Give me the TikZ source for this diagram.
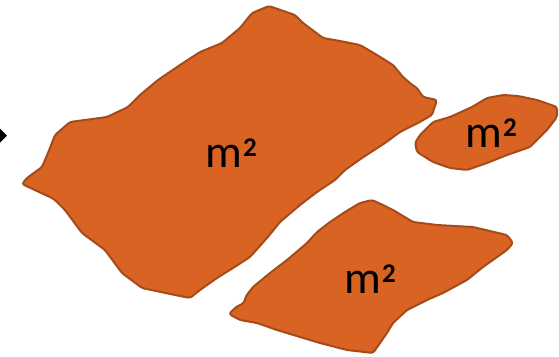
\documentclass[tikz,border=0pt]{standalone}
\usepackage{fontspec}
\setmainfont{Carlito}
\definecolor{clayfill}{HTML}{D96322}
\definecolor{clayedge}{HTML}{A54B1B}
\newcommand{\sqm}{m\kern1pt\raisebox{11pt}{\fontsize{27}{30}\selectfont\bfseries 2}}
\tikzset{
  plot/.style={fill=clayfill, draw=clayedge, line width=2pt, line join=round, rounded corners=2.5pt},
  area/.style={font=\fontsize{46}{50}\selectfont, text=black, inner sep=0pt}
}
\begin{document}
\begin{tikzpicture}[x=1pt,y=-1pt]
\useasboundingbox (0,0) rectangle (559,356);
% pointer at the left edge
\fill (-8,135.5) -- (-0.5,128) -- (7,135.5) -- (-0.5,143) -- cycle;
% big plot
\draw[plot] (27,178) -- (42,167) -- (48,153) -- (55,135) -- (70,122) -- (107,117) -- (128,107)
  -- (140,95) -- (158,80) -- (180,65) -- (200,52) -- (222,43) -- (240,28) -- (252,13)
  -- (269,6) -- (295,15) -- (303,23) -- (323,38) -- (340,41) -- (360,45) -- (377,55)
  -- (393,65) -- (403,77) -- (411,84) -- (417,88) -- (423,97) -- (437,100) -- (432,115)
  -- (418,123) -- (400,132) -- (385,143) -- (362,158) -- (345,170) -- (335,180)
  -- (317,192) -- (300,205) -- (280,222) -- (267,238) -- (250,257) -- (233,268)
  -- (217,278) -- (200,290) -- (190,298) -- (175,295) -- (142,288) -- (122,273)
  -- (105,250) -- (82,233) -- (65,210) -- (55,200) -- (52,198) -- (22,184) -- cycle;
% small plot
\draw[plot] (420,135) -- (433,122) -- (450,117) -- (472,107) -- (487,98) -- (503,95)
  -- (518,96) -- (537,100) -- (557,107) -- (557,117) -- (547,130) -- (530,147)
  -- (507,155) -- (487,163) -- (467,170) -- (450,168) -- (433,162) -- (417,152)
  -- (415,143) -- cycle;
% lower plot
\draw[plot] (372,200) -- (383,205) -- (393,210) -- (413,222) -- (437,225) -- (473,227)
  -- (507,235) -- (513,243) -- (507,250) -- (483,267) -- (467,280) -- (443,293)
  -- (427,300) -- (407,310) -- (393,323) -- (387,333) -- (380,343) -- (373,353)
  -- (347,350) -- (320,343) -- (300,337) -- (277,330) -- (257,323) -- (240,320)
  -- (229,314) -- (236,307) -- (244,303) -- (246,296) -- (253,287) -- (270,273)
  -- (287,260) -- (307,243) -- (317,232) -- (330,222) -- (345,212) -- (360,203) -- cycle;
\node[area] (bigarea) at (231,153) {\sqm};
\node[area] (smallarea) at (491,133) {\sqm};
\node[area] (lowarea) at (370,279) {\sqm};
\end{tikzpicture}
\end{document}
